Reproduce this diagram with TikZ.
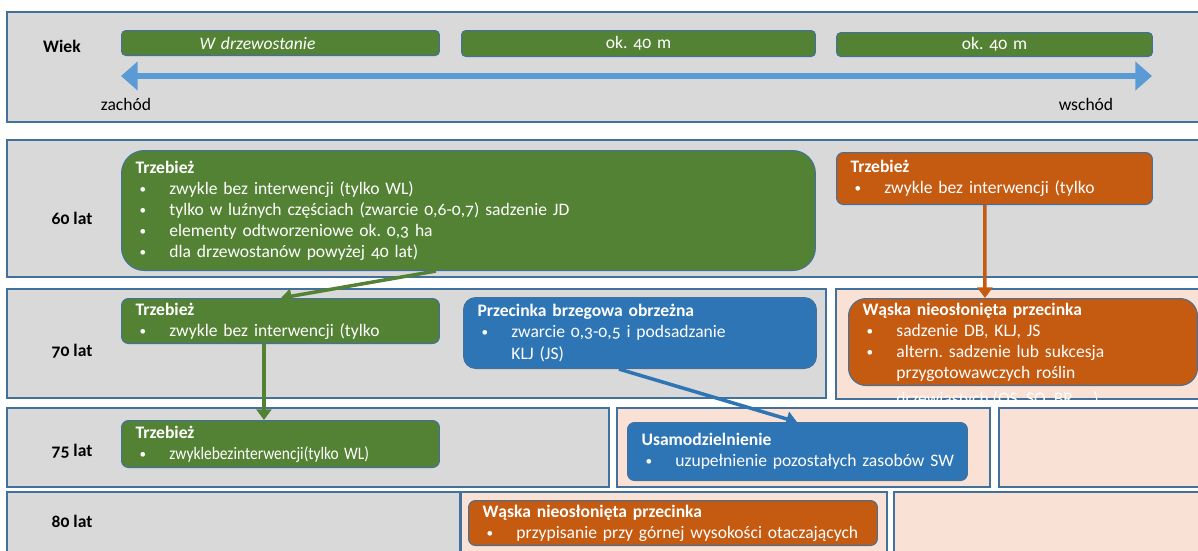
\documentclass[tikz,border=0pt]{standalone}
\usepackage{fontspec}
\setmainfont{Carlito}[Numbers=OldStyle]
\usepackage{graphicx}
\usetikzlibrary{arrows.meta}
\frenchspacing

\definecolor{ziel}{HTML}{548235}
\definecolor{pomar}{HTML}{C55A11}
\definecolor{nieb}{HTML}{2E75B6}
\definecolor{strz}{HTML}{5B9BD5}
\definecolor{szary}{HTML}{D9D9D9}
\definecolor{brzosk}{HTML}{F9E2D5}
\definecolor{ramka}{HTML}{41719C}

\newcommand{\pkt}{\hspace*{2.3pt}\makebox[17pt][l]{\raisebox{0.6pt}{\scalebox{0.75}{\textbullet}}}}
\newcommand{\wc}{\hspace*{19.3pt}}

\begin{document}
\begin{tikzpicture}[x=0.02cm,y=-0.02cm,>={Triangle[length=0pt 3,width=0pt 4.2]},
                    font=\fontsize{10pt}{12pt}\selectfont]
\tikzstyle{pole}=[draw=ramka,line width=0.8pt]
\tikzset{etyk/.style={font=\fontsize{10pt}{12pt}\selectfont\bfseries,inner sep=0pt},
         pasek/.style={anchor=north west,fill=ziel,draw=ramka,line width=0.6pt,
                       rounded corners=2.5pt,text=white,inner sep=0pt},
         pudlo/.style={anchor=north west,draw=ramka,line width=0.6pt,text=white,
                       align=left,inner xsep=0.28cm,inner ysep=0pt,rounded corners=4pt},
         polacz/.style={line width=2pt}}

\fill[white] (0,0) rectangle (1198,551);
\useasboundingbox (0,0) rectangle (1198,551);

% pasy tla
\path[pole,fill=szary]  (7,12)    rectangle (1215,122);
\path[pole,fill=szary]  (7,140)   rectangle (1215,277);
\path[pole,fill=szary]  (7,289)   rectangle (826,398);
\path[pole,fill=brzosk] (836,289) rectangle (1215,399);
\path[pole,fill=szary]  (7,408)   rectangle (609,487);
\path[pole,fill=brzosk] (617,408) rectangle (990,487);
\path[pole,fill=brzosk] (999,408) rectangle (1215,487);
\path[pole,fill=szary]  (7,492)   rectangle (460,565);
\path[pole,fill=brzosk] (461,492) rectangle (887,565);
\path[pole,fill=brzosk] (894,492) rectangle (1215,565);

% wiek
\node[etyk]                                              (wiek) at (62,46)   {Wiek};
\node[pasek,text width=6.36cm,minimum height=0.5cm,align=left]   (b1) at (121,30)  {\hspace*{1.56cm}\textit{W drzewostanie}};
\node[pasek,text width=7.08cm,minimum height=0.52cm,align=center] (b2) at (461,30)  {ok. 40 m};
\node[pasek,text width=6.32cm,minimum height=0.48cm,align=center] (b3) at (836,32)  {ok. 40 m};

\coordinate (zach) at (121,76);
\coordinate (wsch) at (1152,76);
\draw[{Triangle[length=9.5pt,width=16pt]}-{Triangle[length=9.5pt,width=16pt]},strz,line width=3.4pt] (zach) -- (wsch);

\node[inner sep=0pt] (zt) at (126,104)  {zachód};
\node[inner sep=0pt] (wt) at (1086,104) {wschód};

% etykiety wierszy
\node[etyk] (l60) at (72,218) {60 lat};
\node[etyk] (l70) at (72,351) {70 lat};
\node[etyk] (l75) at (72,451) {75 lat};
\node[etyk] (l80) at (72,521) {80 lat};

% 60 lat
\node[pudlo,fill=ziel,rounded corners=13pt,text width=13.32cm,minimum height=2.4cm] (t60) at (121,150)
  {\textbf{Trzebież}\\ \pkt zwykle bez interwencji (tylko WL)\\ \pkt tylko w luźnych częściach (zwarcie 0,6-0,7) sadzenie JD\\
   \pkt elementy odtworzeniowe ok. 0,3 ha\\ \pkt dla drzewostanów powyżej 40 lat)};
\node[pudlo,fill=pomar,text width=5.76cm,minimum height=1.04cm] (o60) at (836,152)
  {\textbf{Trzebież}\\ \pkt zwykle bez interwencji (tylko};

% 70 lat
\node[pudlo,fill=ziel,text width=5.80cm,minimum height=0.9cm] (t70) at (121,298)
  {\textbf{Trzebież}\\ \pkt zwykle bez interwencji (tylko};
\node[pudlo,fill=nieb,rounded corners=7pt,text width=6.50cm,minimum height=1.42cm] (c70) at (463,297)
  {\textbf{Przecinka brzegowa obrzeżna}\\ \pkt zwarcie 0,3-0,5 i podsadzanie\\ \wc KLJ (JS)};
\node[pudlo,fill=pomar,rounded corners=10pt,text width=6.42cm,minimum height=1.74cm] (w70) at (848,298)
  {\textbf{Wąska nieosłonięta przecinka}\\ \pkt sadzenie DB, KLJ, JS\\ \pkt altern. sadzenie lub sukcesja\\ \wc przygotowawczych roślin};
\node[anchor=north west,text=white,inner sep=0pt] (w70x) at ([xshift=0.28cm,yshift=-0.1cm]w70.south west)
  {\wc drzewiastych (OS, SO, BR, …)};

% 75 lat
\node[pudlo,fill=ziel,text width=5.80cm,minimum height=0.94cm] (t75) at (121,420)
  {\textbf{Trzebież}\\ \pkt \scalebox{0.88}[1]{zwyklebezinterwencji(tylko WL)}};
\node[pudlo,fill=nieb,text width=6.24cm,minimum height=1.16cm] (u75) at (627,422)
  {\textbf{Usamodzielnienie}\\ \pkt \mbox{uzupełnienie pozostałych zasobów SW}};

% 80 lat
\node[pudlo,fill=pomar,text width=7.62cm,minimum height=0.9cm] (w80) at (468,500)
  {\textbf{Wąska nieosłonięta przecinka}\\ \pkt przypisanie przy górnej wysokości otaczających};

\path[->,polacz]
  ([xshift=6.3cm]t60.south west)  edge[ziel]  ([xshift=3.2cm]t70.north west)
  ([xshift=2.86cm]t70.south west) edge[ziel]  ([xshift=2.86cm]t75.north west)
  ([xshift=2.98cm]o60.south west) edge[pomar] ([xshift=2.74cm]w70.north west)
  ([xshift=3.12cm]c70.south west) edge[nieb]  ([xshift=3.4cm]u75.north west)
  ; %end path

\end{tikzpicture}
\end{document}
